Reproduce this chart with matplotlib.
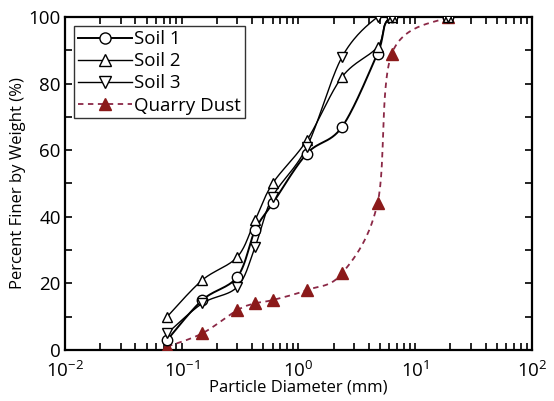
import numpy as np
import matplotlib
matplotlib.use("Agg")
import matplotlib.pyplot as plt
from matplotlib.ticker import LogLocator, MultipleLocator, NullFormatter

plt.rcParams['font.family'] = ['Open Sans', 'DejaVu Sans']
plt.rcParams['mathtext.fontset'] = 'custom'
plt.rcParams['mathtext.rm'] = 'Open Sans'

# sieve sizes (mm) and percent passing
sizes = [0.075, 0.15, 0.3, 0.425, 0.6, 1.18, 2.36, 4.75, 6.3, 19]
soil1 = [3, 15, 22, 36, 44, 59, 67, 89, 100, 100]
soil2 = [10, 21, 28, 39, 50, 63, 82, 91, 100, 100]
soil3 = [5, 14, 19, 31, 46, 61, 88, 100, 100, 100]
quarry = [1, 5, 12, 14, 15, 18, 23, 44, 89, 100]

labels = ["Soil 1", "Soil 2", "Soil 3", "Quarry Dust"]
qd_color = "#8b1a1a"
qd_line = "#8b2846"


# smooth line through points (Catmull-Rom in screen-like space, like Excel)
def smooth(x, y, n=30, w=468.0, h=333.0):
    px = (np.log10(x) + 2) / 4 * w
    py = np.array(y, dtype=float) / 100 * h
    P = np.column_stack([px, py])
    P = np.vstack([P[0], P, P[-1]])
    out = []
    for i in range(1, len(P) - 2):
        p0, p1, p2, p3 = P[i - 1], P[i], P[i + 1], P[i + 2]
        c1 = p1 + (p2 - p0) / 6
        c2 = p2 - (p3 - p1) / 6
        t = np.linspace(0, 1, n)[:, None]
        seg = (1 - t) ** 3 * p1 + 3 * (1 - t) ** 2 * t * c1 + 3 * (1 - t) * t ** 2 * c2 + t ** 3 * p2
        out.append(seg)
    s = np.vstack(out)
    return 10 ** (s[:, 0] / w * 4 - 2), s[:, 1] / h * 100


fig = plt.figure(figsize=(5.54, 4.01), dpi=100)
ax = fig.add_axes([0.1173, 0.1272, 0.843, 0.8304])

# quarry dust first so soil markers sit on top
sx, sy = smooth(sizes, quarry)
ax.plot(sx, sy, color=qd_line, lw=1.3, ls=(0, (3, 2.5)), zorder=2)
ax.plot(sizes, quarry, ls='none', marker='^', ms=8, color=qd_color, mec=qd_color, zorder=3)

markers = ['o', '^', 'v']
widths = [1.4, 1.0, 1.0]
for vals, m, lw in zip([soil1, soil2, soil3], markers, widths):
    sx, sy = smooth(sizes, vals)
    ax.plot(sx, sy, color='black', lw=lw, zorder=4)
    ax.plot(sizes, vals, ls='none', marker=m, ms=7.5, mfc='white', mec='black', mew=1.0, zorder=5)

# legend handles
h1, = ax.plot([], [], color='black', lw=1.4, marker='o', ms=8, mfc='white', mec='black')
h2, = ax.plot([], [], color='black', lw=1.0, marker='^', ms=8, mfc='white', mec='black')
h3, = ax.plot([], [], color='black', lw=1.0, marker='v', ms=8, mfc='white', mec='black')
h4, = ax.plot([], [], color=qd_line, lw=1.3, ls=(0, (3, 2.5)), marker='^', ms=8.5, mfc=qd_color, mec=qd_color)
leg = ax.legend([h1, h2, h3, h4], labels, loc='upper left', fontsize=13.5, frameon=True,
                fancybox=False, edgecolor='black', handlelength=2.9, handletextpad=0.1,
                borderpad=0.2, labelspacing=0.22, borderaxespad=0.5)
leg.get_frame().set_linewidth(1.0)

ax.set_xscale('log')
ax.set_xlim(1e-2, 1e2)
ax.set_ylim(0, 100)
ax.xaxis.set_major_locator(LogLocator(base=10, numticks=10))
ax.xaxis.set_minor_locator(LogLocator(base=10, subs=np.arange(2, 10), numticks=10))
ax.xaxis.set_minor_formatter(NullFormatter())
ax.yaxis.set_major_locator(MultipleLocator(20))
ax.yaxis.set_minor_locator(MultipleLocator(10))
ax.tick_params(which='both', direction='in', top=True, right=True, length=5, width=1.2, labelsize=13.5)
ax.tick_params(axis='x', pad=8)
ax.tick_params(axis='y', pad=3)
for sp in ax.spines.values():
    sp.set_linewidth(1.6)

ax.set_xlabel("Particle Diameter (mm)", fontsize=12, labelpad=-1)
ax.set_ylabel("Percent Finer by Weight (%)", fontsize=12, labelpad=2)

fig.savefig("out.png", dpi=100)
